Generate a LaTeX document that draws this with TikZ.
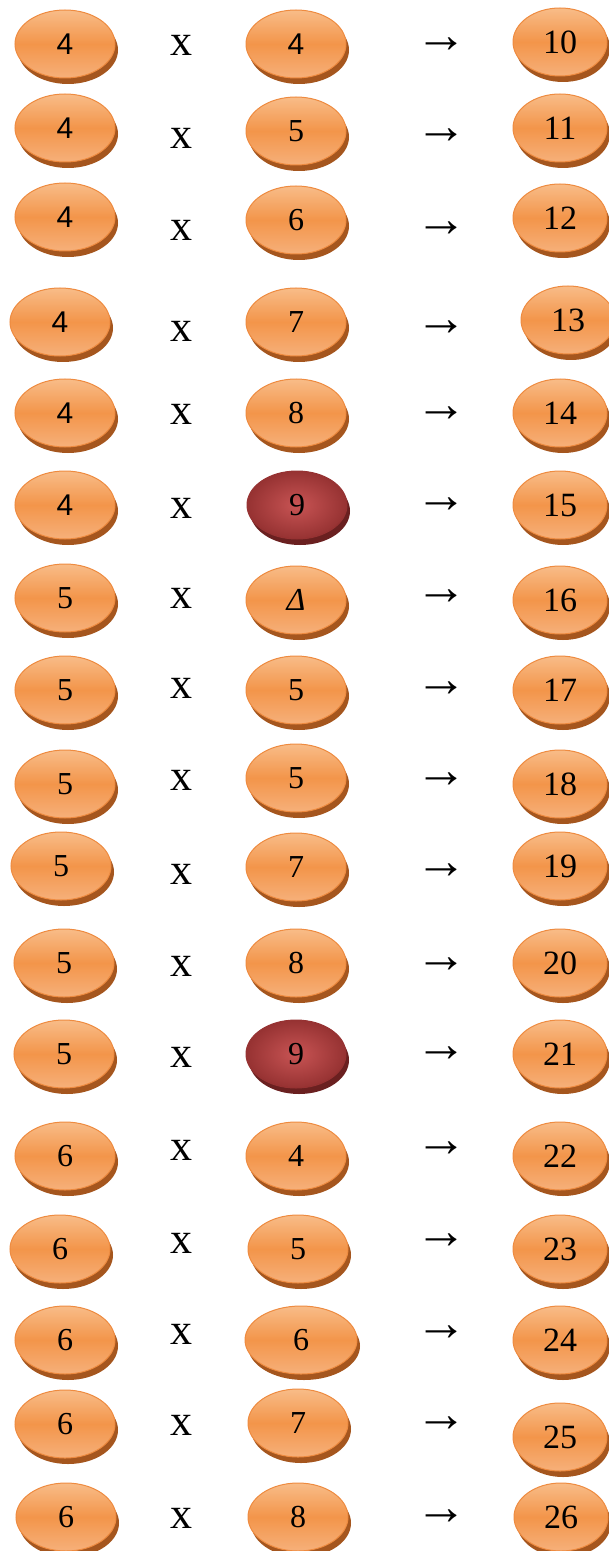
\documentclass[tikz,border=0pt]{standalone}
\usepackage{fontspec}
\setmainfont{Liberation Serif}
\newfontfamily\arialf{Liberation Sans}
\usetikzlibrary{shapes.geometric,shadows}
\definecolor{orA}{HTML}{F3954A}
\definecolor{orTop}{HTML}{F8BC88}
\definecolor{orBot}{HTML}{F6B07A}
\definecolor{orEdge}{HTML}{EE8B40}
\definecolor{orShadow}{HTML}{A5561E}
\definecolor{rdA}{HTML}{963232}
\definecolor{rdC}{HTML}{C85454}
\definecolor{rdShadow}{HTML}{6A2020}
\tikzset{
  pillbase/.style={ellipse, minimum width=50pt, minimum height=34pt, inner sep=0pt, line width=0.5pt,
    execute at begin node={\lower2pt\hbox\bgroup}, execute at end node={\egroup}},
  pill/.style={pillbase, top color=orTop, bottom color=orBot, middle color=orA, draw=orEdge,
    general shadow={fill=orShadow, shadow xshift=1.5pt, shadow yshift=-3pt},
    font=\fontsize{16}{16}\selectfont},
  rpill/.style={pill, minimum width=47pt, font=\fontsize{17}{17}\selectfont},
  redpill/.style={pillbase, inner color=rdC, outer color=rdA, draw=rdA,
    general shadow={fill=rdShadow, shadow xshift=1.5pt, shadow yshift=-3pt},
    font=\fontsize{16}{16}\selectfont},
  times/.style={font=\fontsize{22}{22}\selectfont, inner sep=0pt},
  yields/.style={font=\fontsize{26}{26}\selectfont, inner sep=0pt},
  sans/.style={font=\arialf\fontsize{15}{15}\selectfont}
}
\begin{document}
\begin{tikzpicture}[x=0.5pt, y=-0.5pt]
\useasboundingbox (0,0) rectangle (609,1551);
% row 1
\node[pill, sans] (l1) at (65,44) {4};
\node[times] (x1) at (181,45) {x};
\node[pill, sans] (m1) at (296,44) {4};
\node[yields] (a1) at (441,45) {→};
\node[rpill] (r1) at (560,42) {10};
% row 2
\node[pill, sans] (l2) at (65,128) {4};
\node[times] (x2) at (181,138) {x};
\node[pill] (m2) at (296,131) {5};
\node[yields] (a2) at (441,136) {→};
\node[rpill] (r2) at (560,128) {11};
% row 3
\node[pill, sans] (l3) at (65,217) {4};
\node[times] (x3) at (181,230) {x};
\node[pill] (m3) at (296,220) {6};
\node[yields] (a3) at (441,229) {→};
\node[rpill] (r3) at (560,218) {12};
% row 4
\node[pill, sans] (l4) at (60,322) {4};
\node[times] (x4) at (181,331) {x};
\node[pill] (m4) at (296,322) {7};
\node[yields] (a4) at (441,328) {→};
\node[rpill] (r4) at (568,320) {13};
% row 5
\node[pill, sans] (l5) at (65,413) {4};
\node[times] (x5) at (181,414) {x};
\node[pill] (m5) at (296,413) {8};
\node[yields] (a5) at (441,414) {→};
\node[rpill] (r5) at (560,413) {14};
% row 6
\node[pill, sans] (l6) at (65,505) {4};
\node[times] (x6) at (181,508) {x};
\node[redpill] (m6) at (297,505) {9};
\node[yields] (a6) at (441,505) {→};
\node[rpill] (r6) at (560,505) {15};
% row 7
\node[pill] (l7) at (65,598) {5};
\node[times] (x7) at (181,598) {x};
\node[pill] (m7) at (296,600) {\itshape Δ};
\node[yields] (a7) at (441,597) {→};
\node[rpill] (r7) at (560,600) {16};
% row 8
\node[pill] (l8) at (65,690) {5};
\node[times] (x8) at (181,688) {x};
\node[pill] (m8) at (296,690) {5};
\node[yields] (a8) at (441,689) {→};
\node[rpill] (r8) at (560,690) {17};
% row 9
\node[pill] (l9) at (65,784) {5};
\node[times] (x9) at (181,780) {x};
\node[pill] (m9) at (296,778) {5};
\node[yields] (a9) at (441,780) {→};
\node[rpill] (r9) at (560,784) {18};
% row 10
\node[pill] (l10) at (61,866) {5};
\node[times] (x10) at (181,874) {x};
\node[pill] (m10) at (296,867) {7};
\node[yields] (a10) at (441,871) {→};
\node[rpill] (r10) at (560,866) {19};
% row 11
\node[pill] (l11) at (64,963) {5};
\node[times] (x11) at (181,966) {x};
\node[pill] (m11) at (296,963) {8};
\node[yields] (a11) at (441,965) {→};
\node[rpill] (r11) at (560,963) {20};
% row 12
\node[pill] (l12) at (64,1054) {5};
\node[times] (x12) at (181,1057) {x};
\node[redpill] (m12) at (296,1054) {9};
\node[yields] (a12) at (441,1054) {→};
\node[rpill] (r12) at (560,1054) {21};
% row 13
\node[pill] (l13) at (65,1156) {6};
\node[times] (x13) at (181,1150) {x};
\node[pill] (m13) at (296,1156) {4};
\node[yields] (a13) at (441,1149) {→};
\node[rpill] (r13) at (560,1156) {22};
% row 14
\node[pill] (l14) at (60,1249) {6};
\node[times] (x14) at (181,1243) {x};
\node[pill] (m14) at (298,1249) {5};
\node[yields] (a14) at (441,1241) {→};
\node[rpill] (r14) at (560,1249) {23};
% row 15
\node[pill] (l15) at (65,1340) {6};
\node[times] (x15) at (181,1334) {x};
\node[pill, minimum width=56pt] (m15) at (301,1340) {6};
\node[yields] (a15) at (441,1333) {→};
\node[rpill] (r15) at (560,1340) {24};
% row 16
\node[pill] (l16) at (65,1424) {6};
\node[times] (x16) at (181,1425) {x};
\node[pill] (m16) at (298,1423) {7};
\node[yields] (a16) at (441,1424) {→};
\node[rpill] (r16) at (560,1437) {25};
% row 17
\node[pill] (l17) at (66,1517) {6};
\node[times] (x17) at (181,1518) {x};
\node[pill] (m17) at (298,1517) {8};
\node[yields] (a17) at (441,1517) {→};
\node[rpill] (r17) at (561,1517) {26};
\end{tikzpicture}
\end{document}
